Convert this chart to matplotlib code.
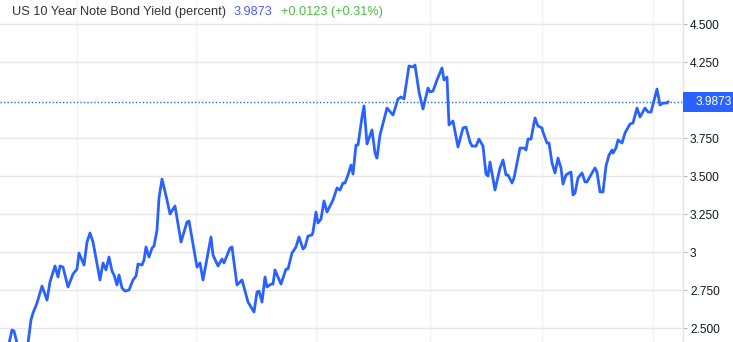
import numpy as np
import matplotlib
matplotlib.use("Agg")
import matplotlib.pyplot as plt
from matplotlib.patches import Rectangle
import matplotlib.transforms as mtransforms

plt.rcParams['font.family'] = ['Liberation Sans', 'DejaVu Sans']

# --- data (t = session position, yield in percent) ---
t = [8, 12, 14, 17, 20, 24, 28, 31, 33, 37, 42, 47, 50, 55, 58, 60, 63, 68, 73, 77,
     79, 84, 87, 90, 93, 100, 103, 106, 109, 112, 114, 117, 119, 122, 125, 129, 133, 136, 138, 142,
     144, 146, 149, 152, 154, 157, 159, 162, 167, 170, 175, 181, 187, 189, 197, 200, 203, 211, 213, 218,
     222, 224, 230, 232, 237, 242, 248, 254, 257, 259, 262, 265, 267, 271, 273, 275, 281, 286, 288, 292,
     296, 299, 303, 305, 308, 312, 313, 316, 318, 321, 324, 327, 330, 333, 337, 340, 343, 345, 348, 351,
     353, 356, 358, 362, 364, 367, 372, 375, 377, 380, 387, 393, 398, 401, 404, 409, 413, 415, 419, 423,
     428, 430, 433, 437, 442, 444, 447, 449, 453, 458, 463, 466, 470, 472, 476, 479, 483, 486, 488, 490,
     495, 500, 503, 506, 508, 512, 514, 520, 524, 526, 528, 531, 535, 538, 542, 543, 547, 549, 552, 555,
     558, 561, 563, 566, 569, 571, 573, 575, 578, 582, 585, 587, 592, 595, 597, 600, 603, 606, 609, 612,
     613, 616, 618, 622, 625, 630, 633, 637, 640, 645, 648, 651, 657, 660, 663, 667, 668]
yld = [2.368, 2.487, 2.480, 2.401, 2.342, 2.322, 2.401, 2.553, 2.599, 2.664, 2.776, 2.684, 2.803, 2.908, 2.836, 2.908, 2.901, 2.770, 2.855, 2.888,
       2.993, 2.914, 3.066, 3.125, 3.066, 2.816, 2.928, 2.882, 2.967, 2.875, 2.849, 2.783, 2.849, 2.763, 2.743, 2.750, 2.816, 2.842, 2.921, 2.914,
       2.947, 3.033, 2.967, 3.026, 3.039, 3.145, 3.355, 3.480, 3.342, 3.250, 3.303, 3.066, 3.197, 3.204, 2.901, 2.928, 2.816, 3.099, 2.980, 2.908,
       2.954, 2.928, 3.026, 3.033, 2.783, 2.816, 2.671, 2.605, 2.737, 2.743, 2.671, 2.836, 2.770, 2.789, 2.789, 2.882, 2.789, 2.888, 2.888, 2.993,
       3.033, 3.099, 3.020, 3.033, 3.105, 3.112, 3.132, 3.263, 3.191, 3.217, 3.336, 3.263, 3.303, 3.342, 3.421, 3.408, 3.454, 3.454, 3.507, 3.572,
       3.513, 3.704, 3.704, 3.888, 3.961, 3.711, 3.803, 3.651, 3.618, 3.770, 3.947, 3.901, 4.007, 4.020, 4.007, 4.224, 4.217, 4.230, 4.053, 3.941,
       4.079, 4.053, 4.059, 4.132, 4.211, 4.132, 4.151, 3.836, 3.862, 3.691, 3.816, 3.822, 3.724, 3.697, 3.697, 3.743, 3.697, 3.513, 3.500, 3.592,
       3.408, 3.553, 3.605, 3.507, 3.507, 3.454, 3.487, 3.684, 3.684, 3.671, 3.743, 3.743, 3.882, 3.829, 3.816, 3.789, 3.717, 3.717, 3.586, 3.520,
       3.618, 3.553, 3.447, 3.507, 3.520, 3.526, 3.375, 3.388, 3.487, 3.520, 3.461, 3.461, 3.520, 3.553, 3.526, 3.395, 3.395, 3.566, 3.638, 3.671,
       3.651, 3.684, 3.737, 3.717, 3.783, 3.842, 3.849, 3.947, 3.888, 3.947, 3.921, 3.921, 4.072, 3.967, 3.980, 3.980, 3.9873]

last_value = 3.9873
change = "+0.0123 (+0.31%)"
month_marks = [77, 196, 316, 430, 542, 653]
ytick_vals = [2.5, 2.75, 3.0, 3.25, 3.5, 3.75, 4.25, 4.5]
ytick_labels = ["2.500", "2.750", "3", "3.250", "3.500", "3.750", "4.250", "4.500"]

BLUE = "#2962ff"
TXT = "#131722"

fig = plt.figure(figsize=(7.33, 3.42), dpi=100)
ax = fig.add_axes([0, 0, 683 / 733, 1])

ax.plot(t, yld, color=BLUE, lw=2.0, solid_joinstyle="round", zorder=3)
ax.axhline(last_value, color=BLUE, lw=1.0, ls=(0, (1, 1.5)), zorder=2)

ax.set_xlim(0, 683)
ax.set_ylim(2.408, 4.658)

for m in month_marks:
    ax.axvline(m, color="#f0f3fa", lw=1.0, zorder=0)
for v in ytick_vals:
    ax.axhline(v, color="#e6e6e6", lw=1.0, zorder=0)

ax.set_xticks([])
ax.yaxis.tick_right()
ax.set_yticks(ytick_vals)
ax.set_yticklabels(ytick_labels)
ax.tick_params(axis="y", length=3, width=0.8, color="#b2b5be", pad=2,
               labelsize=8.6, labelcolor=TXT)
for s in ["top", "left", "bottom"]:
    ax.spines[s].set_visible(False)
ax.spines["right"].set_color("#e0e3eb")
ax.spines["right"].set_linewidth(1.0)

# last value label on the price scale
trans = mtransforms.blended_transform_factory(ax.transAxes, ax.transData)
half_h = 10.3 / 152 * 1.0
ax.add_patch(Rectangle((1.0, last_value - half_h), 0.08, 2 * half_h,
                       transform=trans, facecolor=BLUE, edgecolor="none",
                       clip_on=False, zorder=5))
ax.text(1.0 + 13 / 683, last_value, f"{last_value:.4f}", transform=trans,
        color="white", fontsize=8.6, va="center", ha="left", zorder=6, clip_on=False)

# header
fig.text(12 / 733, 1 - 12 / 342, "US 10 Year Note Bond Yield (percent)",
         color="#333333", fontsize=9.2, va="center", ha="left")
fig.text(234 / 733, 1 - 12 / 342, f"{last_value:.4f}",
         color="#4d5cff", fontsize=9.2, va="center", ha="left")
fig.text(281 / 733, 1 - 12 / 342, change,
         color="#45c13a", fontsize=9.2, va="center", ha="left")

fig.savefig("out.png", dpi=100)
